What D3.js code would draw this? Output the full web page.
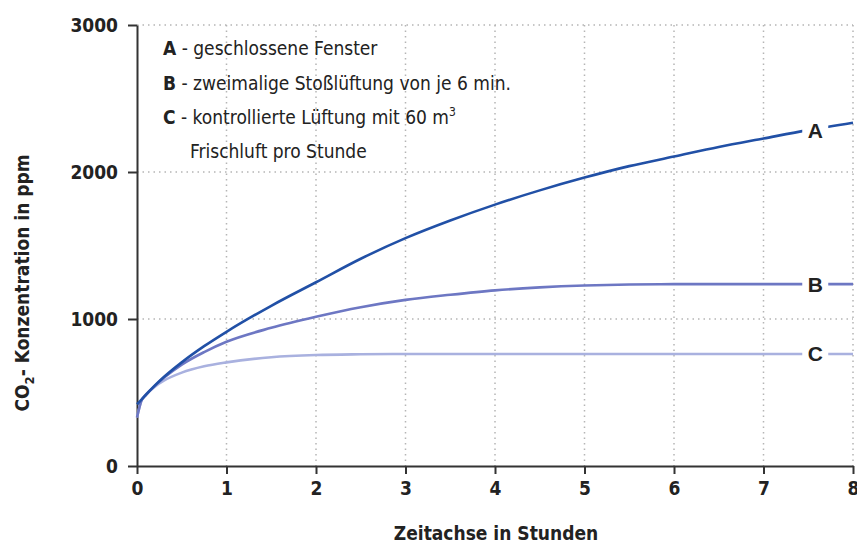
<!DOCTYPE html>
<html>
<head>
<meta charset="utf-8">
<script src="https://d3js.org/d3.v7.min.js"></script>
<style>
  body { margin: 0; background: #fff; }
  svg text { font-family: "DejaVu Sans Condensed", "Liberation Sans Narrow", sans-serif; }
</style>
</head>
<body>
<svg id="chart" width="857" height="545"></svg>
<script>
// Data
var hours = [0, 0.05, 0.1, 0.2, 0.3, 0.5, 0.75, 1, 1.5, 2, 2.5, 3, 3.5, 4, 4.5, 5, 5.5, 6, 6.5, 7, 7.5, 8];
var seriesA = [420, 452, 485, 548, 605, 705, 815, 913, 1090, 1250, 1410, 1550, 1670, 1778, 1875, 1962, 2040, 2105, 2170, 2228, 2285, 2335];
var seriesB = [330, 445, 482, 545, 600, 690, 775, 845, 940, 1015, 1080, 1130, 1165, 1195, 1215, 1228, 1235, 1237, 1237, 1237, 1237, 1237];
var seriesC = [330, 445, 487, 540, 580, 635, 678, 705, 740, 755, 760, 762, 762, 762, 762, 762, 762, 762, 762, 762, 762, 762];
var xTicks = [0, 1, 2, 3, 4, 5, 6, 7, 8];
var yTicks = [0, 1000, 2000, 3000];
var legendLines = [
  {key: "A", text: "geschlossene Fenster"},
  {key: "B", text: "zweimalige Stoßlüftung von je 6 min."},
  {key: "C", text: "kontrollierte Lüftung mit 60 m"}
];

var svg = d3.select("#chart");

// plot area
var plotLeft = 137, plotRight = 853, plotTop = 25, plotBottom = 466;

var x = d3.scaleLinear().domain([0, 8]).range([plotLeft, plotRight]);
var y = d3.scaleLinear().domain([0, 3000]).range([plotBottom, plotTop]);

// grid (dotted)
svg.append("g")
  .selectAll("line")
  .data(yTicks.filter(function(d) { return d > 0; }))
  .enter().append("line")
    .attr("x1", plotLeft).attr("x2", plotRight)
    .attr("y1", function(d) { return y(d); })
    .attr("y2", function(d) { return y(d); })
    .attr("stroke", "#b5b5b5")
    .attr("stroke-width", 1.5)
    .attr("stroke-dasharray", "1.5,4");

svg.append("g")
  .selectAll("line")
  .data(xTicks.filter(function(d) { return d > 0; }))
  .enter().append("line")
    .attr("x1", function(d) { return x(d); })
    .attr("x2", function(d) { return x(d); })
    .attr("y1", plotTop).attr("y2", plotBottom)
    .attr("stroke", "#b5b5b5")
    .attr("stroke-width", 1.5)
    .attr("stroke-dasharray", "1.5,4");

// axes
var xAxis = svg.append("g")
  .attr("transform", "translate(0," + plotBottom + ")")
  .call(d3.axisBottom(x).tickValues(xTicks).tickFormat(d3.format("d"))
    .tickSize(8).tickPadding(8).tickSizeOuter(0));
var yAxis = svg.append("g")
  .attr("transform", "translate(" + plotLeft + ",0)")
  .call(d3.axisLeft(y).tickValues(yTicks).tickFormat(d3.format("d"))
    .tickSize(9).tickPadding(10).tickSizeOuter(0));

[xAxis, yAxis].forEach(function(g) {
  g.select(".domain").attr("stroke", "#333").attr("stroke-width", 2);
  g.selectAll(".tick line").attr("stroke", "#333").attr("stroke-width", 2);
  g.selectAll(".tick text")
    .attr("fill", "#222")
    .style("font-family", "'DejaVu Sans Condensed', sans-serif")
    .style("font-weight", "bold")
    .style("font-size", "19px");
});

// curves
var line = d3.line()
  .x(function(d) { return x(d[0]); })
  .y(function(d) { return y(d[1]); })
  .curve(d3.curveMonotoneX);

var curves = [
  {key: "C", values: seriesC, color: "#a9b1df"},
  {key: "B", values: seriesB, color: "#6d77c3"},
  {key: "A", values: seriesA, color: "#2150a6"}
];

curves.forEach(function(c) {
  svg.append("path")
    .datum(hours.map(function(h, i) { return [h, c.values[i]]; }))
    .attr("d", line)
    .attr("fill", "none")
    .attr("stroke", c.color)
    .attr("stroke-width", 2.6);
});

// end labels on the curves with a white gap
var labelHour = 7.5;
curves.forEach(function(c) {
  var v = c.values[hours.indexOf(labelHour)];
  svg.append("rect")
    .attr("x", x(labelHour) - 6)
    .attr("y", y(v) - 12)
    .attr("width", 26)
    .attr("height", 24)
    .attr("fill", "#fff");
  svg.append("text")
    .attr("x", x(labelHour) + 7)
    .attr("y", y(v) + 7.5)
    .attr("text-anchor", "middle")
    .style("font-family", "'Liberation Sans', Arial, sans-serif")
    .style("font-weight", "bold")
    .style("font-size", "21px")
    .attr("fill", "#222")
    .text(c.key);
});

// legend
var leg = svg.append("g").attr("fill", "#222").style("font-size", "19px");
legendLines.forEach(function(d, i) {
  var t = leg.append("text").attr("x", 163).attr("y", 55 + i * 34.5);
  t.append("tspan").style("font-weight", "bold").text(d.key);
  t.append("tspan").text(" - " + d.text);
  if (d.key === "C") {
    t.append("tspan").attr("dy", -8).style("font-size", "12px").text("3");
  }
});
leg.append("text").attr("x", 190).attr("y", 158).text("Frischluft pro Stunde");

// axis titles
svg.append("text")
  .attr("x", 496).attr("y", 540)
  .attr("text-anchor", "middle")
  .attr("fill", "#222")
  .style("font-weight", "bold")
  .style("font-size", "19px")
  .text("Zeitachse in Stunden");

var yt = svg.append("text")
  .attr("transform", "translate(29,283) rotate(-90)")
  .attr("text-anchor", "middle")
  .attr("fill", "#222")
  .style("font-weight", "bold")
  .style("font-size", "19px");
yt.append("tspan").text("CO");
yt.append("tspan").attr("dy", 5).style("font-size", "13px").text("2");
yt.append("tspan").attr("dy", -5).text("- Konzentration in ppm");
</script>
</body>
</html>
